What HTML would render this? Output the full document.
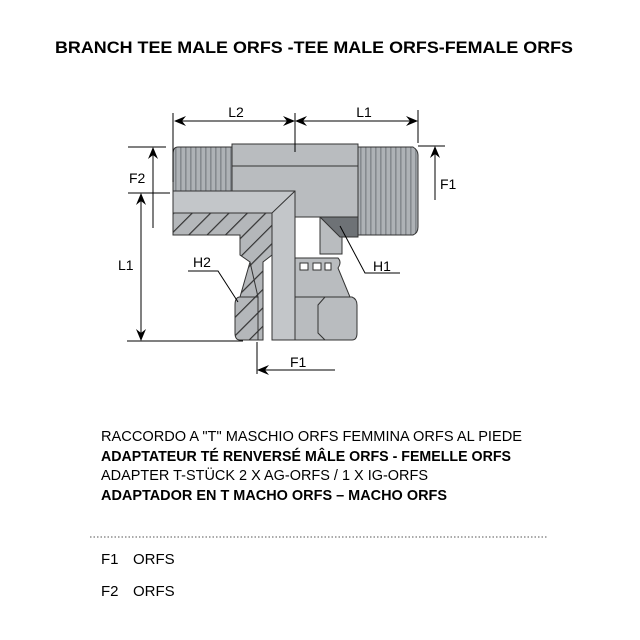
<!DOCTYPE html>
<html><head><style>html,body{margin:0;padding:0;background:#fff}svg{display:block}</style></head><body>
<svg width="640" height="640" viewBox="0 0 640 640" xmlns="http://www.w3.org/2000/svg" font-family="Liberation Sans, DejaVu Sans, sans-serif">
<defs>
<pattern id="thr" width="5" height="10" patternUnits="userSpaceOnUse"><rect width="5" height="10" fill="#aeb2b6"/><rect width="1.6" height="10" fill="#858a8f"/></pattern>
<pattern id="hat" width="13" height="13" patternUnits="userSpaceOnUse" patternTransform="rotate(45)"><rect width="13" height="13" fill="#b4b7ba"/><rect width="1.2" height="13" fill="#333"/></pattern>
<marker id="ar" markerWidth="12" markerHeight="10" refX="11" refY="5" orient="auto" markerUnits="userSpaceOnUse"><path d="M0,0 L12,5 L0,10 L4,5Z" fill="#000"/></marker>
</defs>
<text x="314" y="53" text-anchor="middle" font-size="17" font-weight="bold" textLength="518" lengthAdjust="spacingAndGlyphs">BRANCH TEE MALE ORFS -TEE MALE ORFS-FEMALE ORFS</text>

<g stroke="#333" stroke-width="1">
<path d="M178,147 H232 V235 H180 Q173,235 173,228 V154 Q173,147 178,147Z" fill="url(#thr)"/>
<path d="M358,147 H413 Q418,150 418,155 V227 Q418,233 413,235 H358Z" fill="url(#thr)"/>
<rect x="232" y="144" width="126" height="22" fill="#b9bcbf"/>
<rect x="232" y="166" width="126" height="51" fill="#b9bcbf"/>
<rect x="320" y="217" width="22" height="37" fill="#b9bcbf"/>
<path d="M320,217 H358 V237 H340Z" fill="#6e7276"/>
<path d="M173,191 H295 V340 H272 V235 H173Z" fill="#c3c6c9"/>
<path d="M173,213 H272 L295,191 M272,213 V340" fill="none"/>
<path d="M173,213 H272 V255 L263,262 V340 L250,340 V262 L240,255 V235 H173Z" fill="url(#hat)"/>
<path d="M295,258 H338 Q342,262 338,268 L350,297 H295Z" fill="#b9bcbf"/>
<rect x="300" y="263" width="8" height="7" fill="#fff"/><rect x="313" y="263" width="8" height="7" fill="#fff"/><rect x="325" y="263" width="6" height="7" fill="#fff"/>
<path d="M295,297 H352 Q357,299 357,305 V333 Q357,340 352,340 H295Z" fill="#b9bcbf"/>
<path d="M325,297 L318,305 V333 L325,340" fill="none"/>
<path d="M240,297 H258 V340 H240 Q235,340 235,333 V305 Q235,297 240,297Z" fill="url(#hat)"/>
<path d="M250,262 L240,297 H258Z" fill="url(#hat)"/>
</g>

<g stroke="#000" stroke-width="1" fill="none">
<line x1="173" y1="113" x2="173" y2="182"/><line x1="295" y1="113" x2="295" y2="152"/><line x1="418" y1="110" x2="418" y2="143"/>
<line x1="235" y1="121" x2="175" y2="121" marker-end="url(#ar)"/><line x1="235" y1="121" x2="294" y2="121" marker-end="url(#ar)"/>
<line x1="357" y1="121" x2="296" y2="121" marker-end="url(#ar)"/><line x1="357" y1="121" x2="417" y2="121" marker-end="url(#ar)"/>
<line x1="128" y1="147" x2="166" y2="147"/><line x1="128" y1="193" x2="170" y2="193"/>
<line x1="153" y1="228" x2="153" y2="148" marker-end="url(#ar)"/>
<line x1="141" y1="260" x2="141" y2="194" marker-end="url(#ar)"/><line x1="141" y1="260" x2="141" y2="340" marker-end="url(#ar)"/>
<line x1="127" y1="341" x2="243" y2="341"/>
<line x1="418" y1="146" x2="445" y2="146"/><line x1="435" y1="200" x2="435" y2="147" marker-end="url(#ar)"/>
<line x1="257" y1="342" x2="257" y2="374"/><line x1="335" y1="370" x2="258" y2="370" marker-end="url(#ar)"/>
<path d="M188,271 H218 L238,302"/>
<path d="M400,273 H365 L340,226"/>
</g>
<g font-size="14">
<text x="236" y="117" text-anchor="middle">L2</text>
<text x="364" y="117" text-anchor="middle">L1</text>
<text x="129" y="183">F2</text>
<text x="440" y="189">F1</text>
<text x="118" y="270">L1</text>
<text x="193" y="267">H2</text>
<text x="373" y="271">H1</text>
<text x="290" y="367">F1</text>
</g>
<g font-size="15">
<text x="101" y="441" textLength="421" lengthAdjust="spacingAndGlyphs">RACCORDO A "T" MASCHIO ORFS FEMMINA ORFS  AL PIEDE</text>
<text x="101" y="461" font-weight="bold" textLength="410" lengthAdjust="spacingAndGlyphs">ADAPTATEUR TÉ RENVERSÉ MÂLE ORFS - FEMELLE ORFS</text>
<text x="101" y="480" textLength="327" lengthAdjust="spacingAndGlyphs">ADAPTER T-STÜCK 2 X AG-ORFS / 1 X IG-ORFS</text>
<text x="101" y="500" font-weight="bold" textLength="346" lengthAdjust="spacingAndGlyphs">ADAPTADOR EN T MACHO  ORFS – MACHO ORFS</text>
<text x="101" y="564">F1</text><text x="133" y="564">ORFS</text>
<text x="101" y="596">F2</text><text x="133" y="596">ORFS</text>
</g>
<line x1="90" y1="537" x2="548" y2="537" stroke="#555" stroke-width="1" stroke-dasharray="1.5,2"/>
</svg>
</body></html>
